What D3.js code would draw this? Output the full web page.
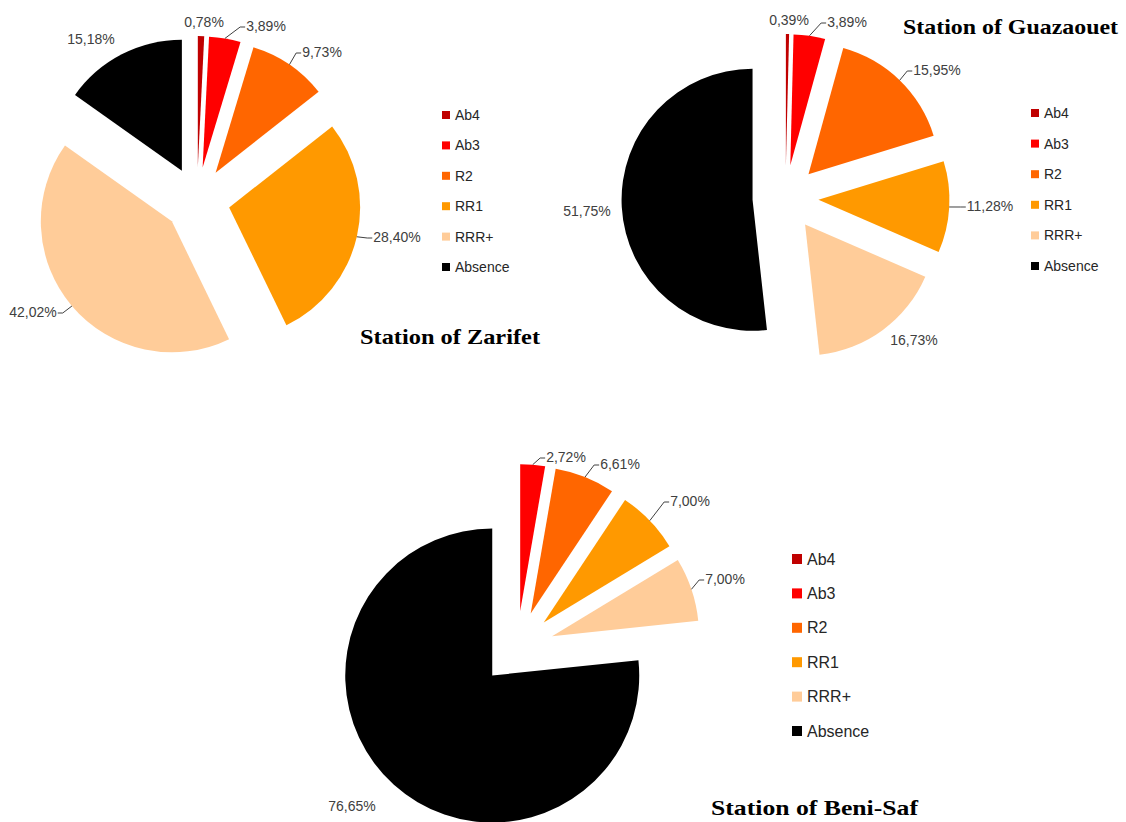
<!DOCTYPE html>
<html>
<head>
<meta charset="utf-8">
<script src="https://cdn.jsdelivr.net/npm/d3@7"></script>
<style>
    body { margin: 0; background: #fff; }
</style>
</head>
<body>
<script>
(function () {
    'use strict';

    // data
    var categories = ['Ab4', 'Ab3', 'R2', 'RR1', 'RRR+', 'Absence'];
    var sliceColors = ['#C00000', '#FF0000', '#FF6600', '#FF9900', '#FFCC99', '#000000'];
    var zarifetValues = [0.78, 3.89, 9.73, 28.40, 42.02, 15.18];
    var guazaouetValues = [0.39, 3.89, 15.95, 11.28, 16.73, 51.75];
    var beniSafValues = [0, 2.72, 6.61, 7.00, 7.00, 76.65];
    var stationNames = ['Station of Zarifet', 'Station of Guazaouet', 'Station of Beni-Saf'];

    // layout (label offsets are relative to pie centre)
    var charts = [
        {
            values: zarifetValues, title: stationNames[0],
            cx: 197, cy: 200, r: 131, explode: 33,
            labels: [[7, -178], [69, -174], [125, -148], [200, 37], [-164, 112], [-106, -161]],
            leaders: [false, true, true, true, true, false],
            legendX: 442, legendY: 115, legendStep: 30.4, box: 8, legendFont: 14,
            titleX: 360, titleY: 344, titleW: 180
        },
        {
            values: guazaouetValues, title: stationNames[1],
            cx: 785.5, cy: 198, r: 131, explode: 33,
            labels: [[3.5, -178], [61.5, -176], [151.5, -128], [204.5, 8], [128.5, 142], [-198.5, 13]],
            leaders: [false, true, true, true, false, false],
            legendX: 1031, legendY: 113, legendStep: 30.6, box: 8, legendFont: 14,
            titleX: 903, titleY: 34, titleW: 215
        },
        {
            values: beniSafValues, title: stationNames[2],
            cx: 517, cy: 648, r: 147, explode: 37,
            labels: [[0, 0], [49, -191], [103, -184], [173, -147], [208, -69], [-165, 158]],
            leaders: [false, true, true, true, true, false],
            legendX: 792, legendY: 559, legendStep: 34.4, box: 10, legendFont: 16,
            titleX: 711, titleY: 815, titleW: 207
        }
    ];

    var width = 1126, height = 822;
    var svg = d3.select('body')
        .append('svg')
        .attr('width', width)
        .attr('height', height)
        .style('font-family', '"Liberation Sans", Arial, sans-serif');

    svg.append('rect')
        .attr('width', width)
        .attr('height', height)
        .attr('fill', '#fff');

    var color = d3.scaleOrdinal().domain(categories).range(sliceColors);
    var fmt = d3.format('.2f');
    function pct(v) {
        return fmt(v).replace('.', ',') + '%';
    }

    var pie = d3.pie()
        .sort(null)
        .value(function (d) { return d.value; });

    charts.forEach(drawPie);

    function drawPie(cfg) {
        var rows = categories.map(function (c, i) {
            return { cat: c, value: cfg.values[i], idx: i };
        });
        var arcs = pie(rows);
        var arc = d3.arc().innerRadius(0).outerRadius(cfg.r);

        var g = svg.append('g')
            .attr('transform', 'translate(' + cfg.cx + ',' + cfg.cy + ')');

        function dir(d) {
            var a = (d.startAngle + d.endAngle) / 2;
            return [Math.sin(a), -Math.cos(a)];
        }

        var shown = arcs.filter(function (d) { return d.value > 0; });

        g.selectAll('path.slice')
            .data(shown)
            .enter()
            .append('path')
            .attr('class', 'slice')
            .attr('d', arc)
            .attr('fill', function (d) { return color(d.data.cat); })
            .attr('transform', function (d) {
                var u = dir(d);
                return 'translate(' + (u[0] * cfg.explode) + ',' + (u[1] * cfg.explode) + ')';
            });

        var labels = g.selectAll('text.lbl')
            .data(shown)
            .enter()
            .append('text')
            .attr('class', 'lbl')
            .attr('x', function (d) { return cfg.labels[d.data.idx][0]; })
            .attr('y', function (d) { return cfg.labels[d.data.idx][1]; })
            .attr('text-anchor', 'middle')
            .attr('dominant-baseline', 'central')
            .attr('font-size', 14)
            .attr('fill', '#404040')
            .text(function (d) { return pct(d.data.value); });

        labels.each(function (d) {
            if (!cfg.leaders[d.data.idx]) {
                return;
            }
            var bb = this.getBBox();
            var u = dir(d);
            var rr = cfg.r + cfg.explode;
            var sx = u[0] * rr, sy = u[1] * rr;
            var ly = cfg.labels[d.data.idx][1] + 1;
            var side = (bb.x + bb.width / 2) > sx ? 1 : -1;
            var edge = side > 0 ? bb.x - 1 : bb.x + bb.width + 1;
            var ex = edge - side * 5;
            if (side * (ex - sx) < 0) {
                ex = sx;
            }
            g.append('path')
                .attr('d', d3.line()([[sx, sy], [ex, ly], [edge, ly]]))
                .attr('fill', 'none')
                .attr('stroke', '#404040')
                .attr('stroke-width', 1);
        });

        // legend
        var ly = d3.scalePoint()
            .domain(categories)
            .range([cfg.legendY, cfg.legendY + cfg.legendStep * (categories.length - 1)]);

        var leg = svg.append('g').selectAll('g')
            .data(categories)
            .enter()
            .append('g')
            .attr('transform', function (c) {
                return 'translate(' + cfg.legendX + ',' + ly(c) + ')';
            });
        leg.append('rect')
            .attr('x', 0)
            .attr('y', -cfg.box / 2)
            .attr('width', cfg.box)
            .attr('height', cfg.box)
            .attr('fill', function (c) { return color(c); });
        leg.append('text')
            .attr('x', cfg.box + 5)
            .attr('dominant-baseline', 'central')
            .attr('font-size', cfg.legendFont)
            .attr('fill', '#262626')
            .text(function (c) { return c; });

        svg.append('text')
            .attr('x', cfg.titleX)
            .attr('y', cfg.titleY)
            .attr('font-family', '"Liberation Serif", "Times New Roman", serif')
            .attr('font-weight', 'bold')
            .attr('font-size', 22)
            .attr('textLength', cfg.titleW)
            .attr('lengthAdjust', 'spacingAndGlyphs')
            .attr('fill', '#000')
            .text(cfg.title);
    }
}());
</script>
</body>
</html>
